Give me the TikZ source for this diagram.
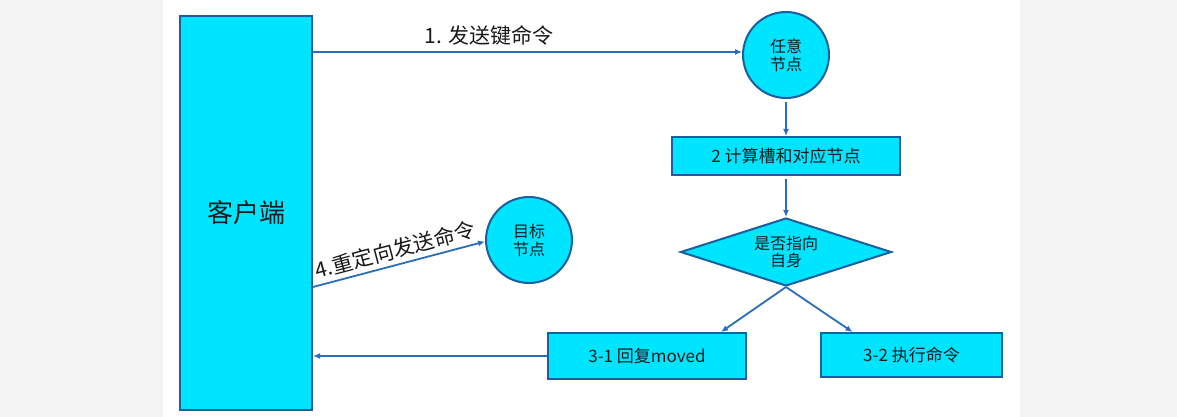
\documentclass[tikz,border=0pt]{standalone}
\usepackage{fontspec}
\setmainfont{Noto Sans CJK SC}
\usetikzlibrary{shapes.geometric,arrows.meta,calc}
\definecolor{bggray}{HTML}{F4F4F4}
\definecolor{cyanfill}{HTML}{00E5FF}
\definecolor{edgeblue}{HTML}{1D5E9E}
\definecolor{arrowblue}{HTML}{2A6DB8}
\definecolor{txt}{HTML}{1A1A1A}
\begin{document}
\begin{tikzpicture}[x=1pt,y=-1pt,
  box/.style={draw=edgeblue,fill=cyanfill,line width=2pt,inner sep=0pt,text=txt,align=center},
  circ/.style={box,circle,minimum size=86pt,font=\fontsize{16}{18}\selectfont},
  rbox/.style={box,rectangle,font=\fontsize{17}{20}\selectfont},
  arr/.style={draw=arrowblue,line width=1.8pt,-{Latex[length=7pt,width=6pt]}},
  lbl/.style={text=txt,font=\fontsize{21}{24}\selectfont}]
\useasboundingbox (0,0) rectangle (1177,417);
\fill[bggray] (0,0) rectangle (1177,417);
\fill[white] (163,0) rectangle (1020,417);

\node[rbox,minimum width=132pt,minimum height=394pt,font=\fontsize{26}{30}\selectfont] (client) at (246,213) {客户端};
\node[circ] (n1) at (786,55) {任意\\节点};
\node[rbox,minimum width=228pt,minimum height=38pt] (n2) at (786,156) {2 计算槽和对应节点};
\node[box,diamond,shape aspect=3.1,minimum width=211pt,minimum height=68pt,font=\fontsize{16}{17}\selectfont] (dia) at (786,252) {是否指向\\自身};
\node[rbox,minimum width=198pt,minimum height=46pt] (n31) at (647,356) {3-1 回复moved};
\node[rbox,minimum width=181pt,minimum height=44pt] (n32) at (911.5,355) {3-2 执行命令};
\node[circ] (tg) at (529,240) {目标\\节点};

\coordinate (t31) at ($(n31.north)+(74,0)$);
\coordinate (t32) at ($(n32.north)+(-59,0)$);
\coordinate (c1) at (client.east |- n1.176);
\coordinate (c4) at ($(client.east)+(0,74)$);
\coordinate (c3) at (client.east |- n31.west);

\draw[arr] (c1) -- (n1.176) node[lbl,pos=0.41,above=2pt] {1. 发送键命令};
\draw[arr] ($(n1.south)+(0,3)$) -- (n2.north);
\draw[arr] ($(n2.south)+(0,3)$) -- (dia.north);
\draw[arr] (dia.south) -- (t31);
\draw[arr] (dia.south) -- (t32);
\draw[arr] (n31.west) -- (c3);
\draw[arr] (c4) -- (tg.182) node[lbl,midway,sloped,above=1pt] {4.重定向发送命令};
\end{tikzpicture}
\end{document}
